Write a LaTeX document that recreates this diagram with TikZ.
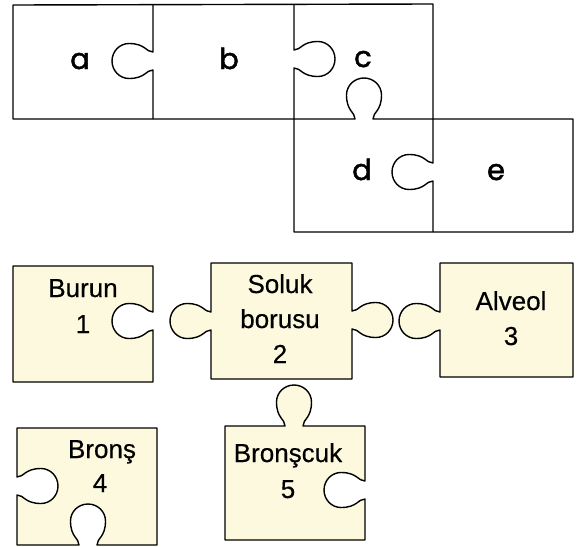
\documentclass[tikz,border=0pt]{standalone}
\usepackage{fontspec}
\setmainfont{Liberation Sans}[FakeBold=0.4]
\newfontfamily\popp{Poppins}[FakeBold=1.6]
\definecolor{piece}{HTML}{FCF9DE}
% tab geometry
\def\tD{41}\def\tRu{17}\def\tRv{17.5}\def\tn{9}\def\tk{0.552}\def\tA{7}\def\tB{0.95}\def\tuc{24}
% vertical edge tab: #1=x, #2=y (screen), #3=p (+1 right,-1 left), #4=t (+1 going down)
\newcommand\vtab[4]{%
 -- (#1, {-(#2-(#4)*\tn)})
 .. controls ({#1+(#3)*\tA}, {-(#2-(#4)*\tn)}) and ({#1+(#3)*(\tuc-\tB*\tRu)}, {-(#2-(#4)*\tRv)}) .. ({#1+(#3)*\tuc}, {-(#2-(#4)*\tRv)})
 .. controls ({#1+(#3)*(\tuc+\tk*\tRu)}, {-(#2-(#4)*\tRv)}) and ({#1+(#3)*\tD}, {-(#2-(#4)*\tk*\tRv)}) .. ({#1+(#3)*\tD}, {-(#2)})
 .. controls ({#1+(#3)*\tD}, {-(#2+(#4)*\tk*\tRv)}) and ({#1+(#3)*(\tuc+\tk*\tRu)}, {-(#2+(#4)*\tRv)}) .. ({#1+(#3)*\tuc}, {-(#2+(#4)*\tRv)})
 .. controls ({#1+(#3)*(\tuc-\tB*\tRu)}, {-(#2+(#4)*\tRv)}) and ({#1+(#3)*\tA}, {-(#2+(#4)*\tn)}) .. (#1, {-(#2+(#4)*\tn)})
}
% horizontal edge tab: #1=x, #2=y (screen), #3=p (+1 down,-1 up), #4=t (+1 going right)
\newcommand\htab[4]{%
 -- ({#1-(#4)*\tn}, {-(#2)})
 .. controls ({#1-(#4)*\tn}, {-(#2+(#3)*\tA)}) and ({#1-(#4)*\tRv}, {-(#2+(#3)*(\tuc-\tB*\tRu))}) .. ({#1-(#4)*\tRv}, {-(#2+(#3)*\tuc)})
 .. controls ({#1-(#4)*\tRv}, {-(#2+(#3)*(\tuc+\tk*\tRu))}) and ({#1-(#4)*\tk*\tRv}, {-(#2+(#3)*\tD)}) .. ({#1}, {-(#2+(#3)*\tD)})
 .. controls ({#1+(#4)*\tk*\tRv}, {-(#2+(#3)*\tD)}) and ({#1+(#4)*\tRv}, {-(#2+(#3)*(\tuc+\tk*\tRu))}) .. ({#1+(#4)*\tRv}, {-(#2+(#3)*\tuc)})
 .. controls ({#1+(#4)*\tRv}, {-(#2+(#3)*(\tuc-\tB*\tRu))}) and ({#1+(#4)*\tn}, {-(#2+(#3)*\tA)}) .. ({#1+(#4)*\tn}, {-(#2)})
}
\begin{document}
\begin{tikzpicture}[x=1pt,y=1pt,
  edge/.style={line width=1.4pt, line join=round},
  piecefill/.style={edge, fill=piece},
  letter/.style={anchor=base, inner sep=0pt, font=\popp\fontsize{29}{29}\selectfont},
  lbl/.style={anchor=base, inner sep=0pt, font=\fontsize{26}{26}\selectfont}]
\useasboundingbox (0,0) rectangle (577,-546);
% ---- top puzzle ----
\draw[edge] (13,-5) -- (433,-4) -- (433,-119) -- (573,-119) -- (573,-232) -- (294,-232) -- (294,-119) -- (13,-119) -- cycle;
\draw[edge] (153,-5) \vtab{153}{61}{-1}{1} -- (153,-119);
\draw[edge] (294,-4) \vtab{294}{59}{1}{1} -- (294,-119);
\draw[edge] (294,-119) \htab{364}{119}{-1}{1} -- (433,-119);
\draw[edge] (433,-119) \vtab{433}{172}{-1}{1} -- (433,-232);
\node[letter] (la) at (80,-69) {a};
\node[letter] (lb) at (229,-69) {b};
\node[letter] (lc) at (363,-67) {c};
\node[letter] (ld) at (362,-180) {d};
\node[letter] (le) at (496,-180) {e};
% ---- bottom pieces ----
% Burun
\draw[piecefill] (13,-266) -- (153,-266) \vtab{153}{321}{-1}{1} -- (153,-382) -- (13,-382) -- cycle;
% Soluk borusu
\draw[piecefill] (211,-263) -- (352,-263) \vtab{352}{320}{1}{1} -- (352,-379) -- (211,-379) \vtab{211}{321}{-1}{-1} -- cycle;
% Alveol
\draw[piecefill] (440,-263) -- (573,-263) -- (573,-377) -- (440,-377) \vtab{440}{321}{-1}{-1} -- cycle;
% Bronş
\draw[piecefill] (17,-428) -- (157,-428) -- (157,-545) \htab{88}{545}{-1}{-1} -- (17,-545) \vtab{17}{486}{1}{-1} -- cycle;
% Bronşcuk
\draw[piecefill] (225,-426) \htab{294}{426}{-1}{1} -- (365,-426) \vtab{365}{490}{-1}{1} -- (365,-540) -- (225,-540) -- cycle;
% labels
\node[lbl] (burun) at (83,-297) {Burun};
\node[lbl] (n1) at (83,-333) {1};
\node[lbl] (soluk) at (280,-293) {Soluk};
\node[lbl] (borusu) at (280,-328) {borusu};
\node[lbl] (n2) at (280,-363) {2};
\node[lbl] (alveol) at (511,-310) {Alveol};
\node[lbl] (n3) at (511,-345) {3};
\node[lbl] (brons) at (102,-458) {Bronş};
\node[lbl] (n4) at (100,-492) {4};
\node[lbl] (bronscuk) at (288,-462) {Bronşcuk};
\node[lbl] (n5) at (288,-498) {5};
\end{tikzpicture}
\end{document}
